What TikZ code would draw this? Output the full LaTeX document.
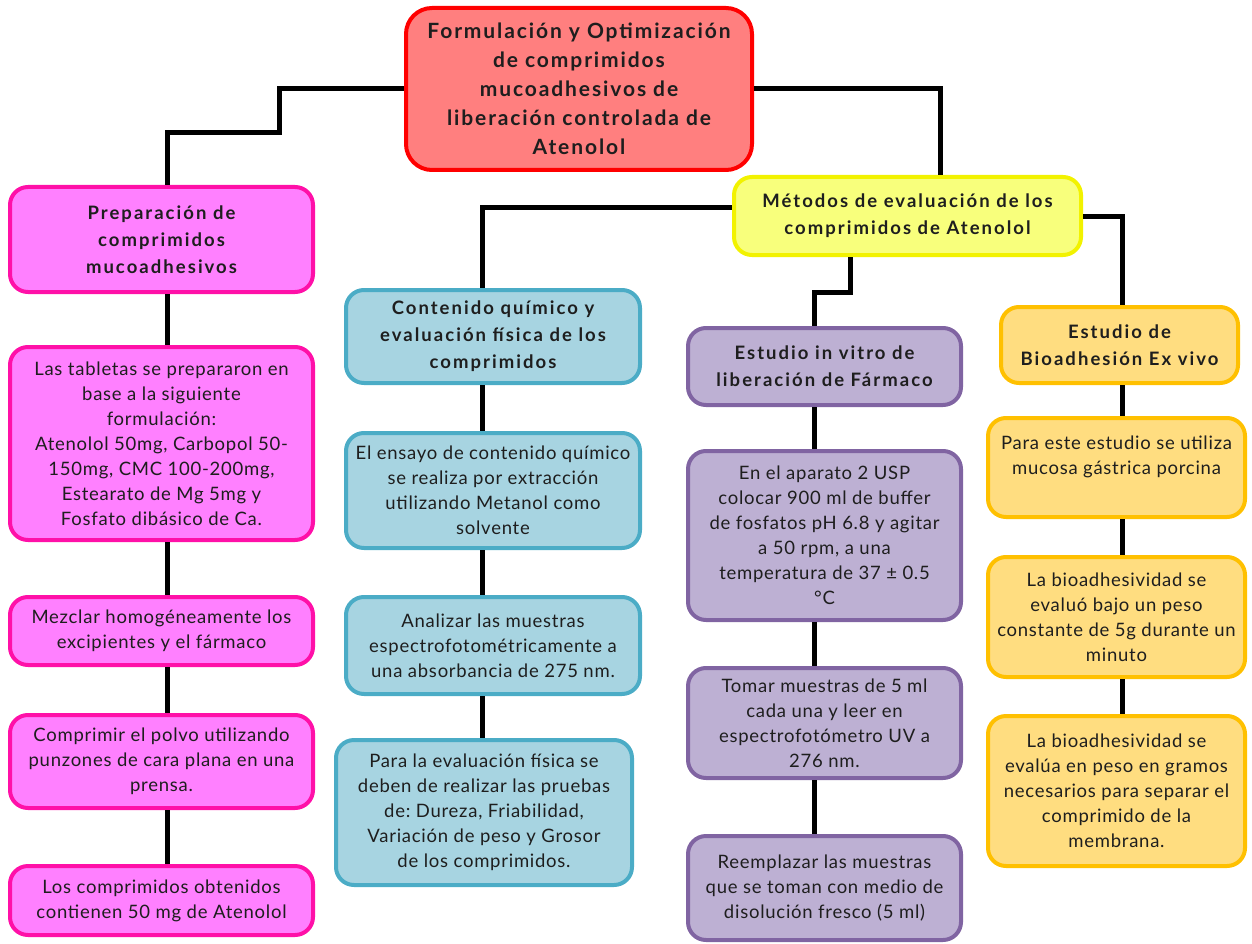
\documentclass[tikz,border=0pt]{standalone}
\usepackage{fontspec}
\setmainfont{Lato}
\newfontfamily\bodyfont[LetterSpace=4]{Lato}
\newfontfamily\headfont[LetterSpace=11]{Lato}
\newfontfamily\titlefont[LetterSpace=9]{Lato}
\frenchspacing
\definecolor{txt}{HTML}{1E1E1E}
\definecolor{redfill}{HTML}{FF7F7F}
\definecolor{redline}{HTML}{FF0000}
\definecolor{pinkfill}{HTML}{FF80FF}
\definecolor{pinkline}{HTML}{FF10A8}
\definecolor{yelfill}{HTML}{F8FF7C}
\definecolor{yelline}{HTML}{F2F200}
\definecolor{bluefill}{HTML}{A7D4E1}
\definecolor{blueline}{HTML}{4BACC6}
\definecolor{purfill}{HTML}{BDB0D3}
\definecolor{purline}{HTML}{8064A2}
\definecolor{orfill}{HTML}{FFDD80}
\definecolor{orline}{HTML}{FFC000}
\begin{document}
\begin{tikzpicture}[x=1pt,y=-1pt,
  box/.style={draw, line width=4pt, rounded corners=18pt, align=center,
    inner sep=2pt, text=txt, font=\bodyfont\fontsize{18.5}{25}\selectfont},
  head/.style={box, font=\headfont\bfseries\fontsize{18.5}{27}\selectfont},
  redbox/.style={head, fill=redfill, draw=redline, rounded corners=26pt,
    font=\titlefont\bfseries\fontsize{21}{29}\selectfont},
  pinkbox/.style={box, fill=pinkfill, draw=pinkline},
  yelbox/.style={head, fill=yelfill, draw=yelline},
  bluebox/.style={box, fill=bluefill, draw=blueline},
  purbox/.style={box, fill=purfill, draw=purline},
  orbox/.style={box, fill=orfill, draw=orline},
  conn/.style={line width=5pt, draw=black}]
\useasboundingbox (0,0) rectangle (1252,944);

% column axes and bends of the connectors
\coordinate (colA) at (167,0);
\coordinate (colB) at (482,0);
\coordinate (colC) at (814,0);
\coordinate (colD) at (1122,0);
\coordinate (jL1) at (279,89);
\coordinate (jL2) at (279,133);
\coordinate (jT) at (940,0);
\coordinate (jM) at (850,292);

% title
\node[redbox, minimum width=346, minimum height=162] (title) at (579,89)
  {Formulación y Optimización\\de comprimidos\\mucoadhesivos de\\liberación controlada de\\Atenolol};

% preparation column
\node[pinkbox, head, minimum width=303, minimum height=105] (prep) at (161.5,239.5)
  {Preparación de\\comprimidos\\mucoadhesivos};
\node[pinkbox, minimum width=303, minimum height=193] (tab) at (161.5,443.5)
  {Las tabletas se prepararon en\\base a la siguiente\\formulación:\\Atenolol 50mg, Carbopol 50-\\150mg, CMC 100-200mg,\\Estearato de Mg 5mg y\\Fosfato dibásico de Ca.};
\node[pinkbox, minimum width=303, minimum height=68] (mez) at (161.5,631)
  {Mezclar homogéneamente los\\excipientes y el fármaco};
\node[pinkbox, minimum width=303, minimum height=93] (comp) at (161.5,761.5)
  {Comprimir el polvo utilizando\\punzones de cara plana en una\\prensa.};
\node[pinkbox, minimum width=303, minimum height=69] (los) at (161.5,900.5)
  {Los comprimidos obtenidos\\contienen 50 mg de Atenolol};

% evaluation methods
\node[yelbox, minimum width=347, minimum height=78] (metodos) at (907.5,216)
  {Métodos de evaluación de los\\comprimidos de Atenolol};

% chemical content column
\node[bluebox, head, minimum width=294, minimum height=93] (cont) at (493,336.5)
  {Contenido químico y\\evaluación física de los\\comprimidos};
\node[bluebox, minimum width=294, minimum height=115] (ens) at (493,490.5)
  {El ensayo de contenido químico\\se realiza por extracción\\utilizando Metanol como\\solvente};
\node[bluebox, minimum width=294, minimum height=97] (anal) at (493,645.5)
  {Analizar las muestras\\espectrofotométricamente a\\una absorbancia de 275 nm.};
\node[bluebox, minimum width=296, minimum height=145] (fis) at (484,812.5)
  {Para la evaluación física se\\deben de realizar las pruebas\\de: Dureza, Friabilidad,\\Variación de peso y Grosor\\de los comprimidos.};

% in vitro release column
\node[purbox, head, minimum width=273, minimum height=77] (invitro) at (824.5,366.5)
  {Estudio in vitro de\\liberación de Fármaco};
\node[purbox, minimum width=273, minimum height=169] (apar) at (824.5,535.5)
  {En el aparato 2 USP\\colocar 900 ml de buffer\\de fosfatos pH 6.8 y agitar\\a 50 rpm, a una\\temperatura de 37 ± 0.5\\°C};
\node[purbox, minimum width=273, minimum height=110] (tomar) at (824.5,723)
  {Tomar muestras de 5 ml\\cada una y leer en\\espectrofotómetro UV a\\276 nm.};
\node[purbox, minimum width=273, minimum height=104] (reem) at (824.5,888)
  {Reemplazar las muestras\\que se toman con medio de\\disolución fresco (5 ml)};

% ex vivo bioadhesion column
\node[orbox, head, minimum width=237, minimum height=76] (bioad) at (1119.5,345)
  {Estudio de\\Bioadhesión Ex vivo};
\node[orbox, minimum width=257, minimum height=99] (porc) at (1116.5,467.5)
  {Para este estudio se utiliza\\mucosa gástrica porcina\\\mbox{}};
\node[orbox, minimum width=257, minimum height=120] (peso) at (1116.5,617)
  {La bioadhesividad se\\evaluó bajo un peso\\constante de 5g durante un\\minuto};
\node[orbox, minimum width=257, minimum height=150] (memb) at (1116.5,791)
  {La bioadhesividad se\\evalúa en peso en gramos\\necesarios para separar el\\comprimido de la\\membrana.};

% connectors from the title and the methods box
\draw[conn] (title.west) -- (jL1) -- (jL2) -| (prep.north -| colA);
\draw[conn] (title.east) -| (metodos.north -| jT);
\draw[conn] ([yshift=9pt]metodos.west) -| (cont.north -| colB);
\draw[conn] (metodos.south -| jM) -- (jM) -| (invitro.north -| colC);
\draw[conn] (metodos.east) -| (bioad.north -| colD);

% connectors down each column
\draw[conn] (prep.south -| colA) -- (tab.north -| colA);
\draw[conn] (tab.south -| colA) -- (mez.north -| colA);
\draw[conn] (mez.south -| colA) -- (comp.north -| colA);
\draw[conn] (comp.south -| colA) -- (los.north -| colA);
\draw[conn] (cont.south -| colB) -- (ens.north -| colB);
\draw[conn] (ens.south -| colB) -- (anal.north -| colB);
\draw[conn] (anal.south -| colB) -- (fis.north -| colB);
\draw[conn] (invitro.south -| colC) -- (apar.north -| colC);
\draw[conn] (apar.south -| colC) -- (tomar.north -| colC);
\draw[conn] (tomar.south -| colC) -- (reem.north -| colC);
\draw[conn] (bioad.south -| colD) -- (porc.north -| colD);
\draw[conn] (porc.south -| colD) -- (peso.north -| colD);
\draw[conn] (peso.south -| colD) -- (memb.north -| colD);
\end{tikzpicture}
\end{document}
